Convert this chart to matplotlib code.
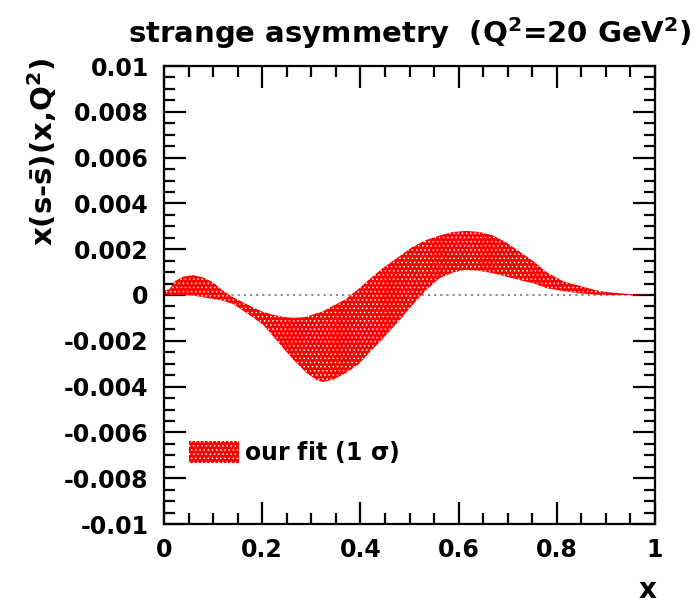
import matplotlib
matplotlib.use("Agg")
import matplotlib.pyplot as plt
from matplotlib.ticker import MultipleLocator, FuncFormatter

# ---- data ----
x_vals = [0.0, 0.011, 0.022, 0.039, 0.059, 0.08, 0.1, 0.12, 0.141, 0.161,
          0.181, 0.202, 0.222, 0.242, 0.262, 0.276, 0.29, 0.31, 0.323, 0.344,
          0.371, 0.398, 0.419, 0.446, 0.467, 0.48, 0.506, 0.534, 0.561, 0.588,
          0.615, 0.643, 0.67, 0.697, 0.724, 0.751, 0.779, 0.813, 0.847, 0.881,
          0.915, 0.949, 1.0]
upper = [0.0002, 0.00025, 0.0006, 0.0008, 0.00087, 0.00077, 0.00055, 0.00019,
         -0.0001, -0.00032, -0.00054, -0.00074, -0.00086, -0.00095, -0.001,
         -0.00098, -0.00095, -0.0008, -0.00072, -0.00047, -0.00017, 0.0003,
         0.0007, 0.00118, 0.0015, 0.0017, 0.0021, 0.0024, 0.0026, 0.00275,
         0.0028, 0.00275, 0.0026, 0.0023, 0.0019, 0.0015, 0.001, 0.0006, 0.0004,
         0.0002, 0.0001, 0.00004, 0.0]
lower = [0.0, 0.0, 0.0, 0.0, -0.00003, -0.0001, -0.00017, -0.00025, -0.0004,
         -0.00068, -0.00098, -0.0013, -0.0018, -0.0023, -0.0028, -0.0031,
         -0.0034, -0.0037, -0.0038, -0.0037, -0.0034, -0.003, -0.0025, -0.0019,
         -0.0014, -0.0011, -0.00044, 0.00022, 0.00073, 0.00098, 0.0011, 0.00105,
         0.00095, 0.0008, 0.00065, 0.00052, 0.0003, 0.00017, 0.00007, 0.00001,
         0.0, 0.0, 0.0]

title = r"strange asymmetry  (Q$^{2}$=20 GeV$^{2}$)"
ylabel = r"x(s-$\bar{\mathbf{s}}$)(x,Q$^{2}$)"
xlabel = "x"
legend_label = r"our fit (1 $\sigma$)"

plt.rcParams['font.family'] = ['DejaVu Sans']
plt.rcParams['font.weight'] = 'bold'
plt.rcParams['mathtext.fontset'] = 'dejavusans'
plt.rcParams['mathtext.default'] = 'bf'
plt.rcParams['hatch.linewidth'] = 0.6

fig = plt.figure(figsize=(6.99, 6.03), dpi=100)
ax = fig.add_axes([164/699, 1-524/603, (655-164)/699, (524-66)/603])

ax.fill_between(x_vals, lower, upper, facecolor='#ff0000', edgecolor='white',
                hatch='....', linewidth=0, label=legend_label, zorder=2)
ax.axhline(0, color='#808080', linestyle=(0, (1.2, 2.2)), linewidth=1.3, zorder=1)

ax.set_xlim(0, 1)
ax.set_ylim(-0.01, 0.01)
ax.xaxis.set_major_locator(MultipleLocator(0.2))
ax.xaxis.set_minor_locator(MultipleLocator(0.05))
ax.yaxis.set_major_locator(MultipleLocator(0.002))
ax.yaxis.set_minor_locator(MultipleLocator(0.0005))

def yfmt(v, pos):
    if abs(v) < 1e-12:
        return "0"
    return ("%.3f" % v).rstrip('0')

def xfmt(v, pos):
    if abs(v) < 1e-12:
        return "0"
    if abs(v - 1) < 1e-12:
        return "1"
    return "%.1f" % v

ax.yaxis.set_major_formatter(FuncFormatter(yfmt))
ax.xaxis.set_major_formatter(FuncFormatter(xfmt))

for sp in ax.spines.values():
    sp.set_linewidth(1.6)
ax.tick_params(which='both', direction='in', top=True, right=True, width=1.6,
               labelsize=17)
ax.tick_params(which='major', length=16)
ax.tick_params(which='minor', length=8)
ax.tick_params(axis='x', which='major', pad=10)
ax.tick_params(axis='y', which='major', pad=11)
for lab in ax.get_xticklabels() + ax.get_yticklabels():
    lab.set_fontweight('bold')

fig.text(410/699, 1 - 43/603, title, ha='center', va='baseline',
         fontsize=21, fontweight='bold')
fig.text(42/699, 1 - 58/603, ylabel, rotation=90, ha='center', va='top',
         fontsize=21, fontweight='bold')
fig.text(648/699, 1 - 590/603, xlabel, ha='center', va='center',
         fontsize=20, fontweight='bold')

leg = ax.legend(loc='center left', bbox_to_anchor=(189/699, 1 - 452/603),
                bbox_transform=fig.transFigure, frameon=False, borderpad=0,
                borderaxespad=0, handlelength=2.1, handleheight=1.1,
                handletextpad=0.25, fontsize=17)

fig.savefig("out.png", dpi=100)
